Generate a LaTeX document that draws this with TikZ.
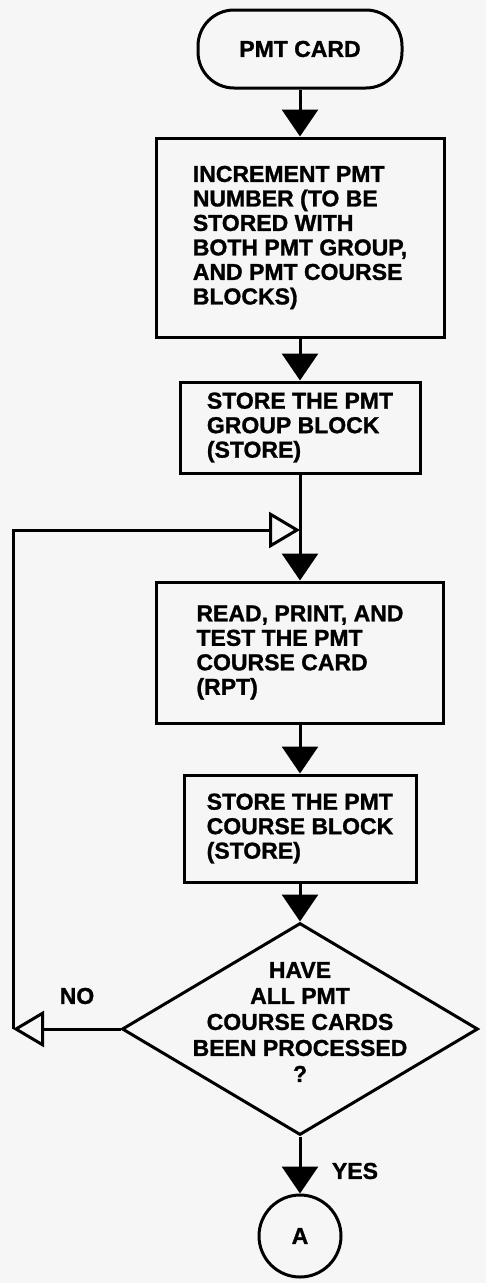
\documentclass[tikz,border=0pt]{standalone}
\usepackage{fontspec}
\setmainfont{Liberation Sans}[BoldFeatures={FakeBold=1.2}]
\usetikzlibrary{shapes.geometric, arrows.meta}
\definecolor{paper}{RGB}{246, 246, 246}

\begin{document}
\begin{tikzpicture}[x=1pt, y=-1pt,
  box/.style={draw, line width=3pt, align=left, inner sep=0pt,
              font=\bfseries\fontsize{23}{24.5}\selectfont},
  lbl/.style={font=\bfseries\fontsize{23}{24.5}\selectfont},
  flow/.style={line width=3pt, -{Triangle[length=27pt, width=36pt]}},
  back/.style={line width=3pt, -{Triangle[open, length=31pt, width=36pt]}}]

  % page background
  \fill[paper] (0,0) rectangle (486,1283);
  \useasboundingbox (0,0) rectangle (486,1283);

  % start terminal
  \node[box, rounded corners=36pt, minimum width=204pt, minimum height=78pt] (card) at (300,49) {PMT CARD};

  % process blocks
  \node[box, minimum width=288pt, minimum height=199pt] (incr) at (300,237.5)
    {INCREMENT PMT\\NUMBER (TO BE\\STORED WITH\\BOTH PMT GROUP,\\AND PMT COURSE\\BLOCKS)};
  \node[box, minimum width=240pt, minimum height=91pt] (grp) at (300,427.5)
    {STORE THE PMT\\GROUP BLOCK\\(STORE)};
  \node[box, minimum width=287pt, minimum height=141pt] (rpt) at (300,652.5)
    {READ, PRINT, AND\\TEST THE PMT\\COURSE CARD\\(RPT)};
  \node[box, minimum width=232pt, minimum height=107pt] (crs) at (300,828.5)
    {STORE THE PMT\\COURSE BLOCK\\(STORE)};

  % decision
  \node[draw, diamond, line width=3pt, minimum width=356pt, minimum height=212pt,
        inner sep=0pt] (dec) at (300,1029) {};
  \node[lbl, align=center, font=\bfseries\fontsize{23}{26}\selectfont] (dectxt) at (300,1022)
    {HAVE\\ALL PMT\\COURSE CARDS\\BEEN PROCESSED\\?};

  % off-page connector
  \node[lbl, draw, circle, line width=3pt, minimum size=82pt, inner sep=0pt] (conA) at (300,1236) {A};

  % loop corners
  \coordinate (nocorner) at (13,1029);
  \coordinate (topcorner) at (13,530);
  \coordinate (join) at (300,530);

  % main flow
  \draw[flow] (card.south) -- (incr.north);
  \draw[flow] (incr.south) -- (grp.north);
  \draw[flow] (grp.south) -- (rpt.north);
  \draw[flow] (rpt.south) -- (crs.north);
  \draw[flow] (crs.south) -- (dec.north);
  \draw[flow] (dec.south) -- (conA.north);

  % return loop
  \draw[back] (dec.west) -- (nocorner);
  \draw[back] (nocorner) -- (topcorner) -- (join);

  \node[lbl] (nolbl) at (77,996) {NO};
  \node[lbl] (yeslbl) at (355,1171) {YES};

\end{tikzpicture}
\end{document}
